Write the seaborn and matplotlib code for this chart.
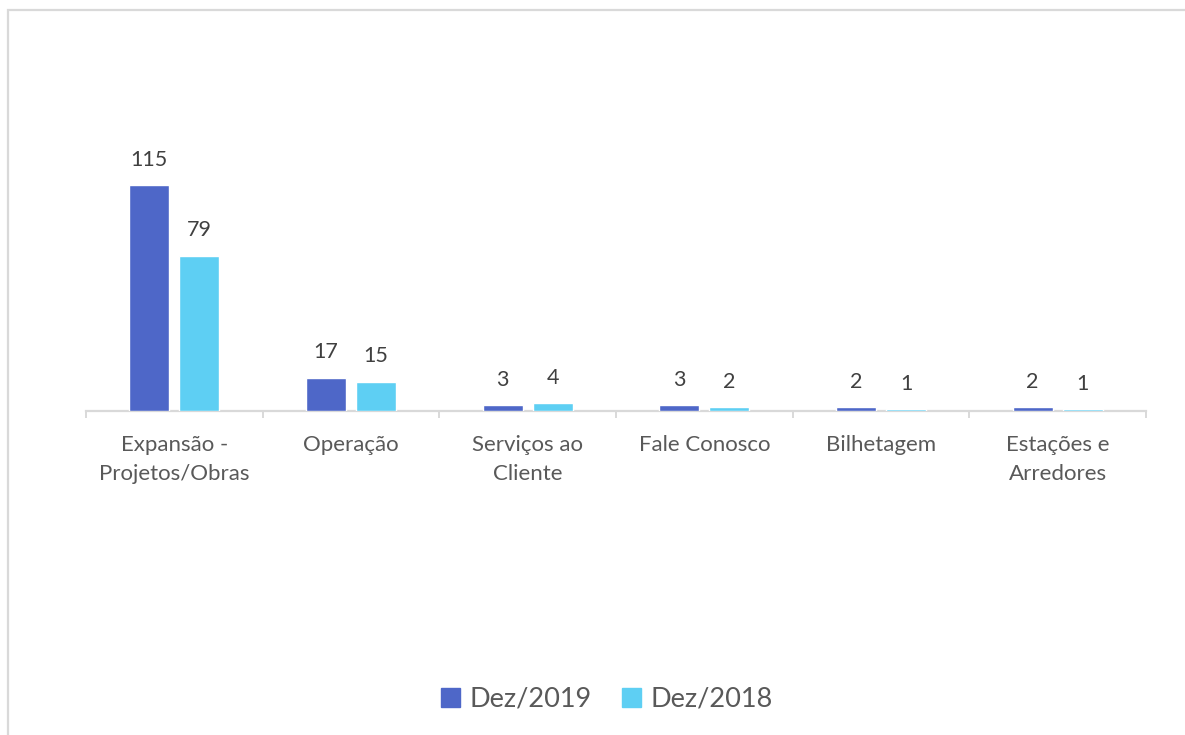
import pandas as pd
import matplotlib.pyplot as plt
import matplotlib.patches as mpatches
import seaborn as sns

# data
categories = ["Expansão -\nProjetos/Obras", "Operação", "Serviços ao\nCliente",
              "Fale Conosco", "Bilhetagem", "Estações e\nArredores"]
series = ["Dez/2019", "Dez/2018"]
values_2019 = [115, 17, 3, 3, 2, 2]
values_2018 = [79, 15, 4, 2, 1, 1]
colors = ["#4e67c8", "#5ecff3"]


def generate():
    df = pd.DataFrame({
        "Categoria": categories * 2,
        "Serie": [series[0]] * len(categories) + [series[1]] * len(categories),
        "Valor": values_2019 + values_2018,
    })

    sns.set_theme(style="white")
    plt.rcParams['font.family'] = ['Lato', 'DejaVu Sans']

    W, H = 1185, 735
    fig = plt.figure(figsize=(W / 100, H / 100), dpi=100)

    # outer chart frame (light grey, runs off right/bottom edge)
    frame = mpatches.Rectangle((8 / W, -0.05), 1.1, (H - 10) / H + 0.05, transform=fig.transFigure,
                               fill=False, edgecolor="#d9d9d9", linewidth=1.6, clip_on=False)
    fig.patches.append(frame)

    ymax = 140
    px_per_unit = 1.965
    base = 411
    ax_h = ymax * px_per_unit
    ax = fig.add_axes([86 / W, (H - base) / H, (1146 - 86) / W, ax_h / H])

    sns.barplot(data=df, x="Categoria", y="Valor", hue="Serie", palette=colors,
                saturation=1, width=0.566, gap=0.2, errorbar=None, legend=False, ax=ax)
    for p in ax.patches:
        p.set_zorder(3)

    for cont in ax.containers:
        ax.bar_label(cont, labels=[f"{v:g}" for v in cont.datavalues], padding=11,
                     fontsize=15.5, color="#404040")

    ax.set_xlim(-0.5, len(categories) - 0.5)
    ax.set_ylim(0, ymax)
    ax.set_xlabel("")
    ax.set_ylabel("")
    ax.set_yticks([])
    for s in ["left", "right", "top"]:
        ax.spines[s].set_visible(False)
    ax.spines["bottom"].set_color("#d9d9d9")
    ax.spines["bottom"].set_linewidth(1.6)

    ax.set_xticks(range(len(categories)))
    ax.set_xticklabels(categories, fontsize=16, color="#595959", linespacing=1.6)
    ax.tick_params(axis="x", which="major", length=0, pad=17)
    ax.set_xticks([i - 0.5 for i in range(len(categories) + 1)], minor=True)
    ax.tick_params(axis="x", which="minor", length=5, width=1.4, color="#d9d9d9", bottom=True)

    handles = [mpatches.Patch(color=c, label=s) for c, s in zip(colors, series)]
    fig.legend(handles=handles, loc="center", bbox_to_anchor=(607 / W, (H - 699) / H),
               ncol=2, frameon=False, fontsize=19.5, labelcolor="#595959",
               handlelength=0.7, handleheight=0.7, handletextpad=0.35, columnspacing=1.1)

    fig.savefig("out.png", dpi=100)
    plt.close(fig)


if __name__ == "__main__":
    generate()
